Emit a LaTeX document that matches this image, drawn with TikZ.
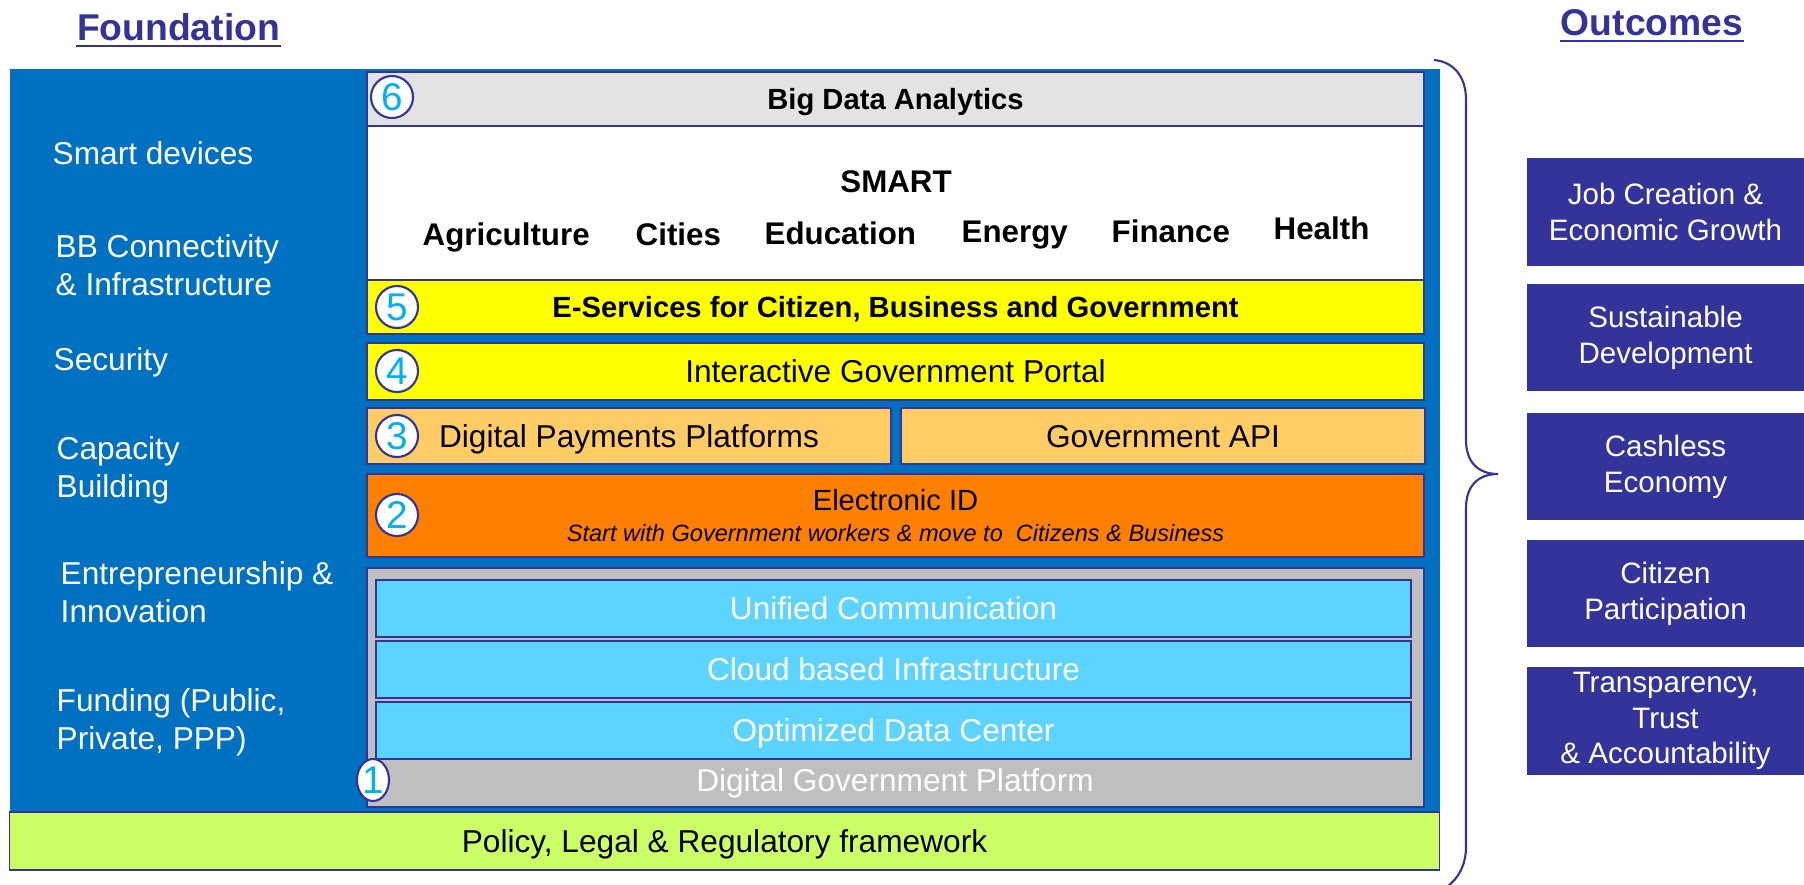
\documentclass[tikz,border=0pt]{standalone}
\usepackage{fontspec}
\setmainfont{Liberation Sans}
\usetikzlibrary{shapes.geometric}

\definecolor{fblue}{HTML}{0070C0}
\definecolor{edge}{HTML}{333399}
\definecolor{paleGray}{HTML}{E3E3E3}
\definecolor{midGray}{HTML}{BFBFBF}
\definecolor{yel}{HTML}{FFFF00}
\definecolor{peach}{HTML}{FFCC66}
\definecolor{orng}{HTML}{FF8000}
\definecolor{sky}{HTML}{5DD4FF}
\definecolor{lime}{HTML}{CCFF66}
\definecolor{numcyan}{HTML}{00B0F0}

\begin{document}
\begin{tikzpicture}[x=0.01cm, y=-0.01cm,
  layer/.style={draw=edge, line width=0.5pt, inner sep=0pt, text depth=0pt, font=\fontsize{9}{10.8}\selectfont},
  bold/.style={font=\fontsize{8.3}{10}\selectfont\bfseries},
  num/.style={circle, draw=edge, line width=0.6pt, fill=white, text=numcyan, inner sep=0pt, minimum size=0.42cm, font=\fontsize{11}{11}\selectfont},
  side/.style={text=white, anchor=base west, align=left, inner sep=0pt, font=\fontsize{9}{10.8}\selectfont},
  sector/.style={anchor=base west, inner sep=0pt, font=\fontsize{8.9}{10}\selectfont\bfseries},
  outcome/.style={fill=edge, text=white, align=center, minimum width=2.77cm, minimum height=1.07cm, inner sep=0pt, font=\fontsize{8.4}{10.2}\selectfont},
  title/.style={text=edge, anchor=base, inner sep=0pt, font=\fontsize{10.6}{12}\selectfont\bfseries}]
\useasboundingbox (0,0) rectangle (1804,884);

% foundation column
\node[fill=fblue, inner sep=0pt, minimum width=14.30cm, minimum height=7.43cm] (Base) at (725,440.5) {};
\node[layer, fill=lime, minimum width=14.29cm, minimum height=0.58cm] (Pol) at (724.5,841) {Policy, Legal \& Regulatory framework};

% side labels (base = last line)
\node[side] (S1) at (52,164) {Smart devices};
\node[side] (S2) at (55,295) {BB Connectivity\\\& Infrastructure};
\node[side] (S3) at (53,370) {Security};
\node[side] (S4) at (56,497) {Capacity\\Building};
\node[side] (S5) at (60,622) {Entrepreneurship \&\\Innovation};
\node[side] (S6) at (56,749) {Funding (Public,\\Private, PPP)};

% layers
\node[layer, fill=paleGray, minimum width=10.57cm, minimum height=0.54cm, bold] (L6) at (895.5,99) {Big Data Analytics};
\node[layer, fill=white, minimum width=10.57cm, minimum height=1.54cm] (Smart) at (895.5,203) {};
\node[anchor=base, inner sep=0pt, font=\fontsize{8.9}{10}\selectfont\bfseries] (SM) at (896,192) {SMART};
\node[sector] (Agr) at (422,245) {Agriculture};
\node[sector] (Cit) at (635,245) {Cities};
\node[sector] (Edu) at (764,244) {Education};
\node[sector] (Ene) at (961,242) {Energy};
\node[sector] (Fin) at (1111,242) {Finance};
\node[sector] (Hea) at (1273,239) {Health};
\node[layer, fill=yel, minimum width=10.57cm, minimum height=0.54cm, bold] (L5) at (895.5,307) {E-Services for Citizen, Business and Government};
\node[layer, fill=yel, minimum width=10.57cm, minimum height=0.57cm] (L4) at (895.5,371.5) {Interactive Government Portal};
\node[layer, fill=peach, minimum width=5.24cm, minimum height=0.56cm] (L3a) at (629,436) {Digital Payments Platforms};
\node[layer, fill=peach, minimum width=5.24cm, minimum height=0.56cm] (L3b) at (1163,436) {Government API};
\node[layer, fill=orng, minimum width=10.57cm, minimum height=0.83cm, align=center, font=\fontsize{8.3}{8.8}\selectfont] (L2) at (895.5,515.5) {Electronic ID\\{\fontsize{6.7}{8.8}\selectfont\itshape Start with Government workers \& move to\ \ Citizens \& Business}};
\node[layer, fill=midGray, minimum width=10.57cm, minimum height=2.39cm] (L1) at (895.5,687.5) {};
\node[layer, fill=sky, text=white, minimum width=10.35cm, minimum height=0.57cm] (UC) at (893.5,608.5) {Unified Communication};
\node[layer, fill=sky, text=white, minimum width=10.35cm, minimum height=0.57cm] (CI) at (893.5,669.5) {Cloud based Infrastructure};
\node[layer, fill=sky, text=white, minimum width=10.35cm, minimum height=0.57cm] (DC) at (893.5,730.5) {Optimized Data Center};
\node[text=white, inner sep=0pt, text depth=0pt, font=\fontsize{9}{10.8}\selectfont] (DGP) at (895,780) {Digital Government Platform};

% step numbers
\node[num] (N6) at (392,97) {6};
\node[num] (N5) at (397,307) {5};
\node[num] (N4) at (397,371) {4};
\node[num] (N3) at (397,436) {3};
\node[num] (N2) at (397,515) {2};
\node[num, ellipse, minimum width=0.32cm, minimum height=0.42cm] (N1) at (373,780) {1};

% brace
\draw[edge, line width=0.6pt] (1434,60) .. controls (1455,62) and (1466,78) .. (1466,100) -- (1466,440)
  .. controls (1466,462) and (1478,474) .. (1498,474)
  .. controls (1478,474) and (1466,486) .. (1466,508) -- (1466,846)
  .. controls (1466,866) and (1458,878) .. (1448,886);

% outcomes
\node[outcome] (O1) at (1665.5,212) {Job Creation \&\\Economic Growth};
\node[outcome] (O2) at (1665.5,337.5) {Sustainable\\Development};
\node[outcome] (O3) at (1665.5,466.5) {Cashless\\Economy};
\node[outcome] (O4) at (1665.5,593.5) {Citizen\\Participation};
\node[outcome] (O5) at (1665.5,721) {Transparency,\\Trust\\\& Accountability};

% titles
\node[title] (TFound) at (178.5,40) {Foundation};
\node[title] (TOut) at (1652,35) {Outcomes};
\draw[edge, line width=0.6pt] ([yshift=-1.8pt]TFound.base west) -- ([yshift=-1.8pt]TFound.base east);
\draw[edge, line width=0.6pt] ([yshift=-1.8pt]TOut.base west) -- ([yshift=-1.8pt]TOut.base east);
\end{tikzpicture}
\end{document}
